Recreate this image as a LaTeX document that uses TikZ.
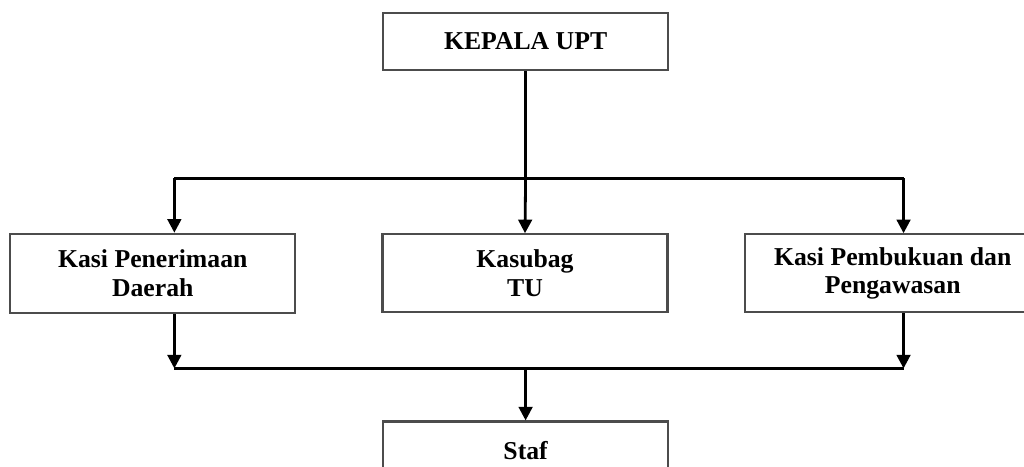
\documentclass[tikz,border=0pt]{standalone}
\usepackage{fontspec}
\setmainfont{Liberation Serif}
\usetikzlibrary{positioning, arrows.meta}
\tikzstyle{box} = [rectangle,draw=boxline,line width=1.6pt,text centered,align=center,minimum width=7.125cm,font=\bfseries\fontsize{18.3}{20.5}\selectfont]
\tikzstyle{line} = [line width=2pt,black]
\tikzstyle{arr} = [line,-{Triangle[length=0.34cm,width=0.34cm]}]
\usepackage{color}
\definecolor{boxline}{rgb}{0.3, 0.3, 0.3}

\begin{document}
\begin{tikzpicture}[node distance=2cm]
		\useasboundingbox (0,0) rectangle (25.6,-11.675);
		\clip (0,0) rectangle (25.6,-11.675);
		\node [box,minimum height=1.425cm] at (13.14,-1.04) (kepala){KEPALA UPT};
		\node [box,minimum height=1.95cm,below=4.05cm of kepala,xshift=-0.015cm](kasubag){Kasubag\\TU};
		\node [box,minimum height=1.975cm,left=2.125cm of kasubag](penerimaan){Kasi Penerimaan\\Daerah};
		\node [box,minimum height=1.95cm,minimum width=7.4cm,right=1.875cm of kasubag](pembukuan){Kasi Pembukuan dan\\Pengawasan};
		\node [box,minimum height=1.425cm,below=2.675cm of kasubag,xshift=0.015cm](staf){Staf};

		\coordinate (topbus) at ([yshift=-2.675cm]kepala.south);
		\coordinate (botbus) at ([yshift=1.3cm]staf.north);
		\coordinate (pl) at ([xshift=0.54cm]penerimaan.north);
		\coordinate (pr) at ([xshift=0.27cm]pembukuan.north);

		\draw[line](kepala.south)--(topbus);
		\draw[line](pl |- topbus)--(pr |- topbus);
		\draw[arr](pl |- topbus)--(pl);
		\draw[arr](topbus)--(kasubag.north);
		\draw[arr](pr |- topbus)--(pr);
		\draw[arr](pl |- penerimaan.south)--(pl |- botbus);
		\draw[arr](pr |- pembukuan.south)--(pr |- botbus);
		\draw[line](pl |- botbus)--(pr |- botbus);
		\draw[arr](botbus)--(staf.north);
\end{tikzpicture}
\end{document}
